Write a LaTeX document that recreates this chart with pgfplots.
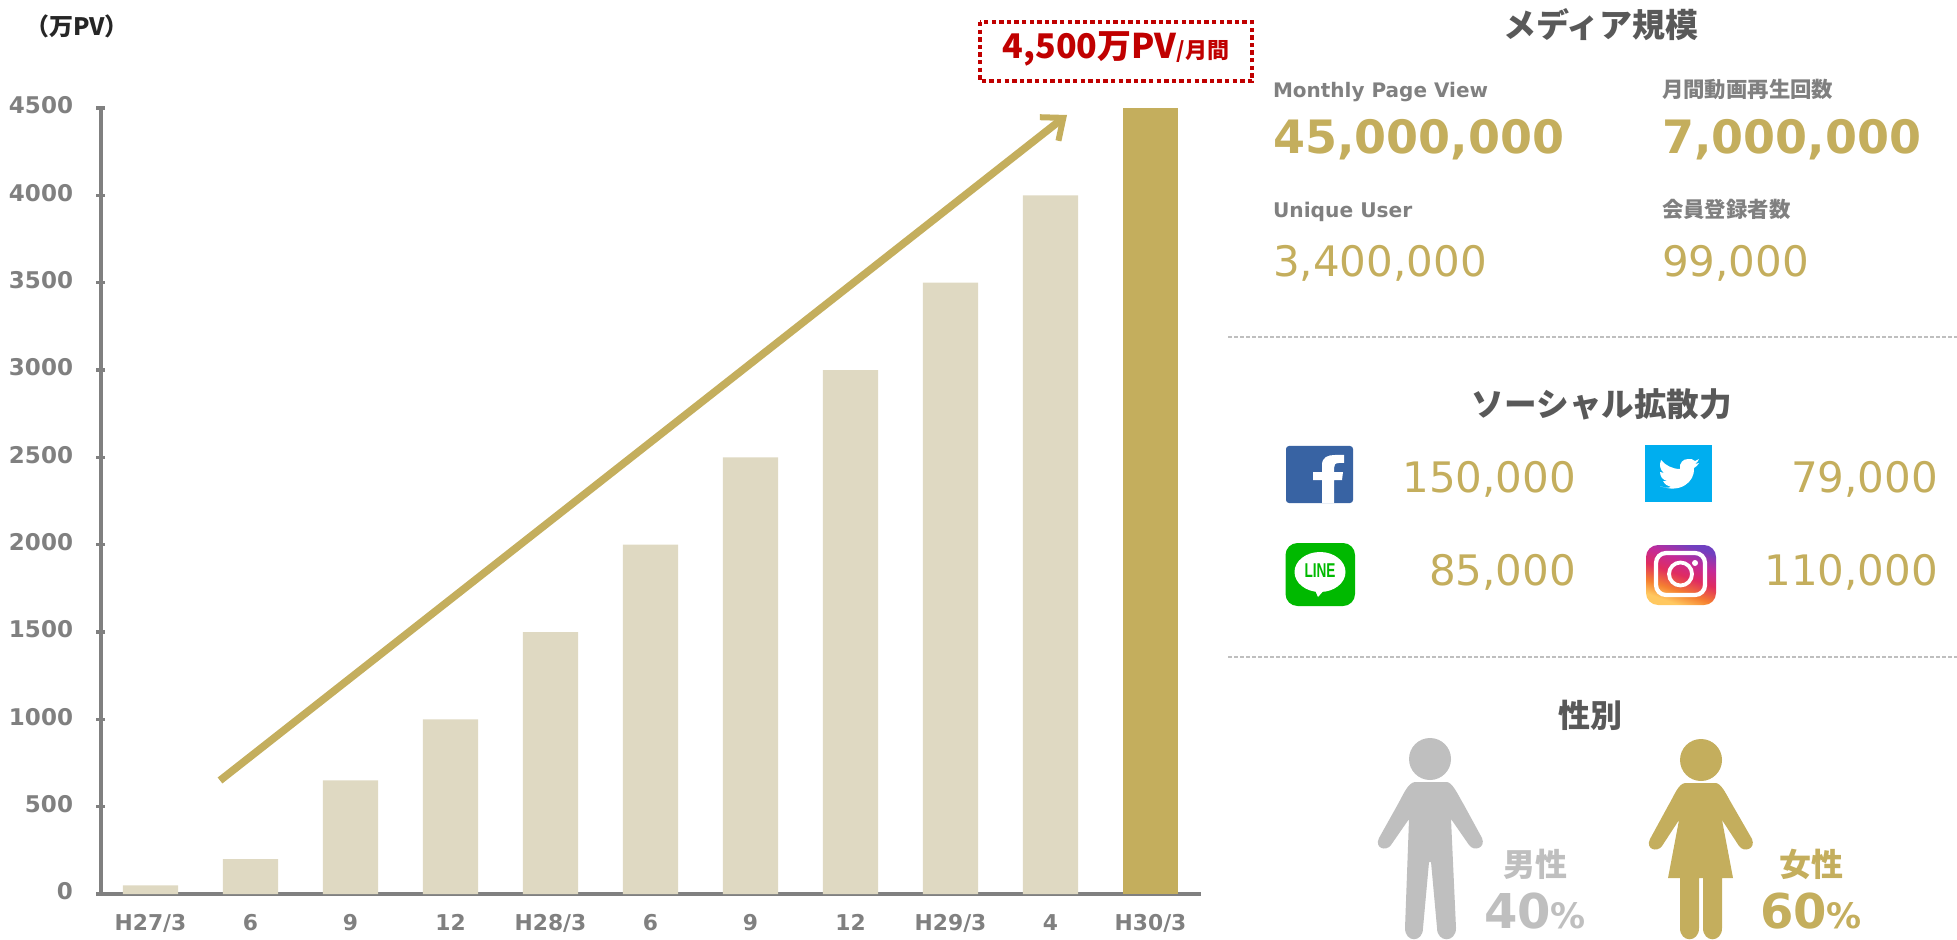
\documentclass[border=0pt]{standalone}
\usepackage{fontspec}
\usepackage{graphicx}
\usepackage{pgfplots}
\pgfplotsset{compat=1.18}
\usetikzlibrary{arrows.meta}
\setmainfont{DejaVu Sans}
\newfontfamily\cjk{Noto Sans CJK JP}
\newfontfamily\narrowsans{Liberation Sans}
\definecolor{gold}{HTML}{C4AE5D}
\definecolor{pale}{HTML}{DFD9C2}
\definecolor{axisgray}{HTML}{808080}
\definecolor{titlegray}{HTML}{595959}
\definecolor{dashgray}{HTML}{BFBFBF}
\definecolor{callred}{HTML}{C00000}
\definecolor{igA}{HTML}{FFC860}
\definecolor{igB}{HTML}{F58030}
\definecolor{igC}{HTML}{E02C60}
\definecolor{igD}{HTML}{C42A98}
\definecolor{igE}{HTML}{7040C0}
\pgfdeclareverticalshading{igshade}{100bp}{color(0bp)=(igA);color(27bp)=(igA);color(37bp)=(igB);color(50bp)=(igC);color(62bp)=(igD);color(75bp)=(igE);color(100bp)=(igE)}
\begin{document}
\begin{tikzpicture}[x=0.5pt,y=-0.5pt,every node/.style={inner sep=0pt,outer sep=0pt}]
\useasboundingbox (0,0) rectangle (1957,940);
\begin{axis}[
  at={(50.25pt,-447pt)},anchor=south west,
  scale only axis,width=550pt,height=393pt,
  xmin=-0.5,xmax=10.5,ymin=0,ymax=4500,
  axis lines=left,
  axis line style={-,draw=axisgray,line width=2pt},
  ytick={0,500,1000,1500,2000,2500,3000,3500,4000,4500},
  xtick={0,1,2,3,4,5,6,7,8,9,10},
  xticklabels={H27/3,6,9,12,H28/3,6,9,12,H29/3,4,H30/3},
  /pgf/number format/assume math mode=true,
  /pgf/number format/1000 sep={},
  y tick style={draw=axisgray,line width=1.6pt},
  major tick length=4.5pt,
  x tick style={draw=none},
  yticklabel style={font=\bfseries\fontsize{11.5}{12}\selectfont,text=axisgray,xshift=-11.5pt,yshift=1.3pt},
  xticklabel style={font=\bfseries\fontsize{10.9}{12}\selectfont,text=axisgray,anchor=base,yshift=-16pt},
  clip=false,
]
\addplot[ybar,bar width=27.7pt,bar shift=0pt,fill=pale,draw=none] coordinates {
 (0,50)(1,200)(2,650)(3,1000)(4,1500)(5,2000)(6,2500)(7,3000)(8,3500)(9,4000)};
\addplot[ybar,bar width=27.7pt,bar shift=0pt,fill=gold,draw=none] coordinates {(10,4500)};
\addplot[draw=gold,line width=3.8pt,-{Straight Barb[length=9pt,width=15pt,line width=3pt]}] coordinates {(0.695,650)(9.165,4460)};
\end{axis}

% axis unit
\node[anchor=center,text=black!85] at (77,26) {\cjk\bfseries\fontsize{12}{12}\selectfont （万PV）};

% callout
\draw[callred,line width=2pt,dash pattern=on 2.2pt off 1.6pt] (980,22) rectangle (1252,81);
\node[anchor=center,text=callred] at (1116,49) {\cjk\bfseries\fontsize{17}{18}\selectfont 4,500万PV\fontsize{11}{12}\selectfont/月間};

% media panel
\node[anchor=center,text=titlegray] at (1601,25) {\cjk\bfseries\fontsize{16.5}{18}\selectfont メディア規模};
\node[anchor=base west,text=axisgray] at (1273,98) {\bfseries\fontsize{10}{12}\selectfont Monthly Page View};
\node[anchor=base west,text=axisgray] at (1662,98) {\cjk\bfseries\fontsize{10.7}{12}\selectfont 月間動画再生回数};
\node[anchor=base west,text=gold] at (1273,154) {\bfseries\fontsize{23}{26}\selectfont 45,000,000};
\node[anchor=base west,text=gold] at (1662,154) {\bfseries\fontsize{23}{26}\selectfont 7,000,000};
\node[anchor=base west,text=axisgray] at (1273,218) {\bfseries\fontsize{10.1}{12}\selectfont Unique User};
\node[anchor=base west,text=axisgray] at (1662,218) {\cjk\bfseries\fontsize{10.7}{12}\selectfont 会員登録者数};
\node[anchor=base west,text=gold] at (1273,277) {\fontsize{21}{24}\selectfont 3,400,000};
\node[anchor=base west,text=gold] at (1662,277) {\fontsize{21}{24}\selectfont 99,000};
\draw[dashgray,line width=1.2pt,dash pattern=on 2.2pt off 0.8pt] (1228,337) -- (1957,337);

% social panel
\node[anchor=center,text=titlegray] at (1602,404) {\cjk\bfseries\fontsize{16.3}{18}\selectfont ソーシャル拡散力};
\node[anchor=base east,text=gold] at (1576,492) {\fontsize{21}{24}\selectfont 150,000};
\node[anchor=base east,text=gold] at (1938,492) {\fontsize{21}{24}\selectfont 79,000};
\node[anchor=base east,text=gold] at (1576,585) {\fontsize{21}{24}\selectfont 85,000};
\node[anchor=base east,text=gold] at (1938,585) {\fontsize{21}{24}\selectfont 110,000};
% facebook
\fill[fill={rgb,255:red,56;green,99;blue,163},rounded corners=1.5pt] (1286,446) rectangle (1353,503);
\fill[white] (1322,503)--(1322,480)--(1313,480)--(1313,472)--(1322,472)--(1322,465) .. controls (1322,457) and (1328,455) .. (1335,455) -- (1344,455)--(1344,463)--(1339,463) .. controls (1335,463) and (1334,465) .. (1334,468)--(1334,472)--(1343,472)--(1342,480)--(1334,480)--(1334,503)--cycle;
% twitter
\fill[fill={rgb,255:red,0;green,174;blue,239}] (1645,445) rectangle (1712,502);
\fill[white] (1688,459) .. controls (1683,459) and (1679,463) .. (1680,469) .. controls (1672,469) and (1665,465) .. (1661,460) .. controls (1659,465) and (1660,470) .. (1664,473) -- (1660,472) .. controls (1660,477) and (1663,480) .. (1667,481) -- (1663,481) .. controls (1665,485) and (1668,486) .. (1671,487) .. controls (1668,488) and (1664,488) .. (1660,486) .. controls (1680,494) and (1695,482) .. (1694,468) .. controls (1696,467) and (1698,465) .. (1699,463) -- (1695,464) .. controls (1697,463) and (1698,461) .. (1699,459) -- (1695,461) .. controls (1693,459) and (1691,459) .. (1688,459) -- cycle;
% line
\fill[fill={rgb,255:red,0;green,185;blue,0},rounded corners=6pt] (1285.5,543) rectangle (1355,606);
\fill[white] (1320,572) ellipse [x radius=25.5,y radius=20];
\fill[white] (1314,588) -- (1326,588) -- (1318,597) -- cycle;
\node[anchor=center,text={rgb,255:red,0;green,185;blue,0}] at (1320,571) {\scalebox{0.68}[1]{\narrowsans\bfseries\fontsize{10}{10}\selectfont LINE}};
% instagram
\shade[shading=igshade,shading angle=-20,rounded corners=6pt] (1646,545) rectangle (1716,605);
\draw[white,line width=2.1pt,rounded corners=5pt] (1656,553) rectangle (1705,595);
\draw[white,line width=1.9pt] (1680.5,574) circle [radius=11.5];
\fill[white] (1695,563) circle [radius=3];
\draw[dashgray,line width=1.2pt,dash pattern=on 2.2pt off 0.8pt] (1228,657) -- (1957,657);

% gender panel
\node[anchor=center,text=titlegray] at (1590,715) {\cjk\bfseries\fontsize{16}{18}\selectfont 性別};
% male
\fill[dashgray] (1430,759) circle [radius=21];
\fill[dashgray] (1415,782) -- (1447,782) .. controls (1453,783) and (1458,795) .. (1464,805) -- (1482,838) .. controls (1486,848) and (1474,852) .. (1469,845) -- (1451,819) -- (1456,928) .. controls (1456,943) and (1437,943) .. (1437,928) -- (1431,862) -- (1429,862) -- (1423,928) .. controls (1423,943) and (1405,943) .. (1405,928) -- (1409,819) -- (1391,845) .. controls (1386,852) and (1374,848) .. (1379,838) -- (1398,804) .. controls (1404,793) and (1408,783) .. (1415,782) -- cycle;
% female
\fill[gold] (1701,760) circle [radius=21];
\fill[gold] (1685,783) -- (1716,783) .. controls (1722,784) and (1727,796) .. (1733,806) -- (1752,839) .. controls (1756,849) and (1744,853) .. (1739,846) -- (1722,820) -- (1733,878) -- (1722,878) -- (1722,928) .. controls (1722,943) and (1703,943) .. (1703,928) -- (1703,878) -- (1699,878) -- (1699,928) .. controls (1699,943) and (1680,943) .. (1680,928) -- (1680,878) -- (1668,878) -- (1679,820) -- (1662,846) .. controls (1657,853) and (1645,849) .. (1650,839) -- (1668,806) .. controls (1674,796) and (1678,784) .. (1685,783) -- cycle;
% labels
\node[anchor=center,text=dashgray] at (1535,864) {\cjk\bfseries\fontsize{16}{18}\selectfont 男性};
\node[anchor=center,text=gold] at (1811,864) {\cjk\bfseries\fontsize{16}{18}\selectfont 女性};
\node[anchor=base,text=dashgray] at (1535,928) {\bfseries\fontsize{24}{26}\selectfont 40\fontsize{17.5}{18}\selectfont\%};
\node[anchor=base,text=gold] at (1811,928) {\bfseries\fontsize{24}{26}\selectfont 60\fontsize{17.5}{18}\selectfont\%};
\end{tikzpicture}
\end{document}
